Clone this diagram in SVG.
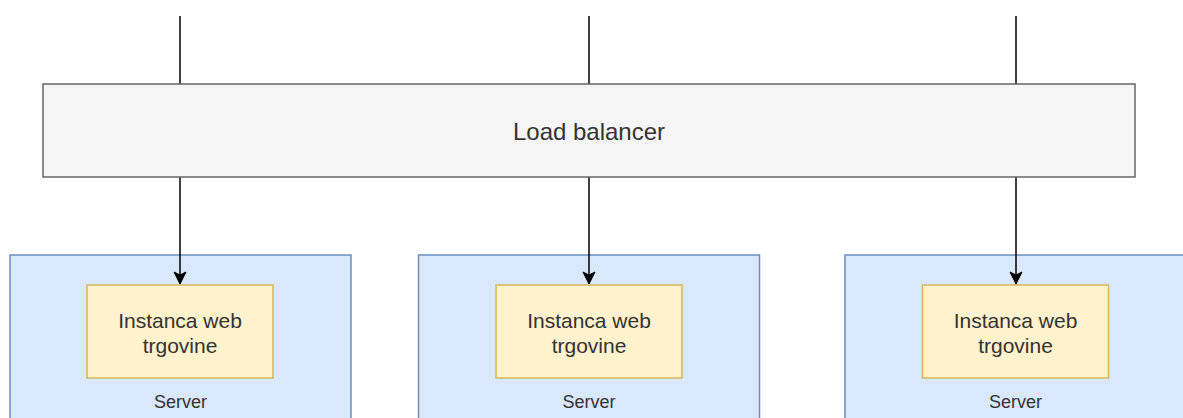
<svg xmlns="http://www.w3.org/2000/svg" width="1183" height="418" viewBox="0 0 1183 418">
<defs>
<style>
.server{fill:#dae8fc;stroke:#6c8ebf;stroke-width:1.5}
.inst{fill:#fff2cc;stroke:#d6b656;stroke-width:1.5}
.lb{fill:#f5f5f5;stroke:#666666;stroke-width:1.5}
.edge{fill:none;stroke:#000000;stroke-width:1.5}
text{font-family:"Liberation Sans",Arial,sans-serif;fill:#333333;text-anchor:middle}
.t24{font-size:24px}
.t21{font-size:21px}
.t18{font-size:18px}
</style>
<marker id="arr" markerUnits="userSpaceOnUse" markerWidth="14" markerHeight="14" viewBox="0 0 14 14" refX="13" refY="7" orient="auto">
<path d="M1,1 L13,7 L1,13 L4,7 Z" fill="#000000" stroke="#000000" stroke-width="1"/>
</marker>
</defs>
<rect width="1183" height="418" fill="#ffffff"/>
<g id="server1">
<rect class="server" x="10" y="255" width="341" height="180"/>
<text class="t18" x="180.5" y="408">Server</text>
</g>
<g id="server2">
<rect class="server" x="418.5" y="255" width="341" height="180"/>
<text class="t18" x="589" y="408">Server</text>
</g>
<g id="server3">
<rect class="server" x="845" y="255" width="341" height="180"/>
<text class="t18" x="1015.5" y="408">Server</text>
</g>
<g id="inst1">
<rect class="inst" x="87" y="285" width="186" height="93"/>
<text class="t21" x="180" y="328">Instanca web</text>
<text class="t21" x="180" y="353">trgovine</text>
</g>
<g id="inst2">
<rect class="inst" x="496" y="285" width="186" height="93"/>
<text class="t21" x="589" y="328">Instanca web</text>
<text class="t21" x="589" y="353">trgovine</text>
</g>
<g id="inst3">
<rect class="inst" x="922.5" y="285" width="186" height="93"/>
<text class="t21" x="1015.5" y="328">Instanca web</text>
<text class="t21" x="1015.5" y="353">trgovine</text>
</g>
<g id="connectors">
<line class="edge" x1="180" y1="16" x2="180" y2="84"/>
<line class="edge" x1="589" y1="16" x2="589" y2="84"/>
<line class="edge" x1="1016" y1="16" x2="1016" y2="84"/>
<line class="edge" x1="180" y1="177" x2="180" y2="284" marker-end="url(#arr)"/>
<line class="edge" x1="589" y1="177" x2="589" y2="284" marker-end="url(#arr)"/>
<line class="edge" x1="1016" y1="177" x2="1016" y2="284" marker-end="url(#arr)"/>
</g>
<g id="loadbalancer">
<rect class="lb" x="43" y="84" width="1092" height="93"/>
<text class="t24" x="589" y="139.5">Load balancer</text>
</g>
</svg>
